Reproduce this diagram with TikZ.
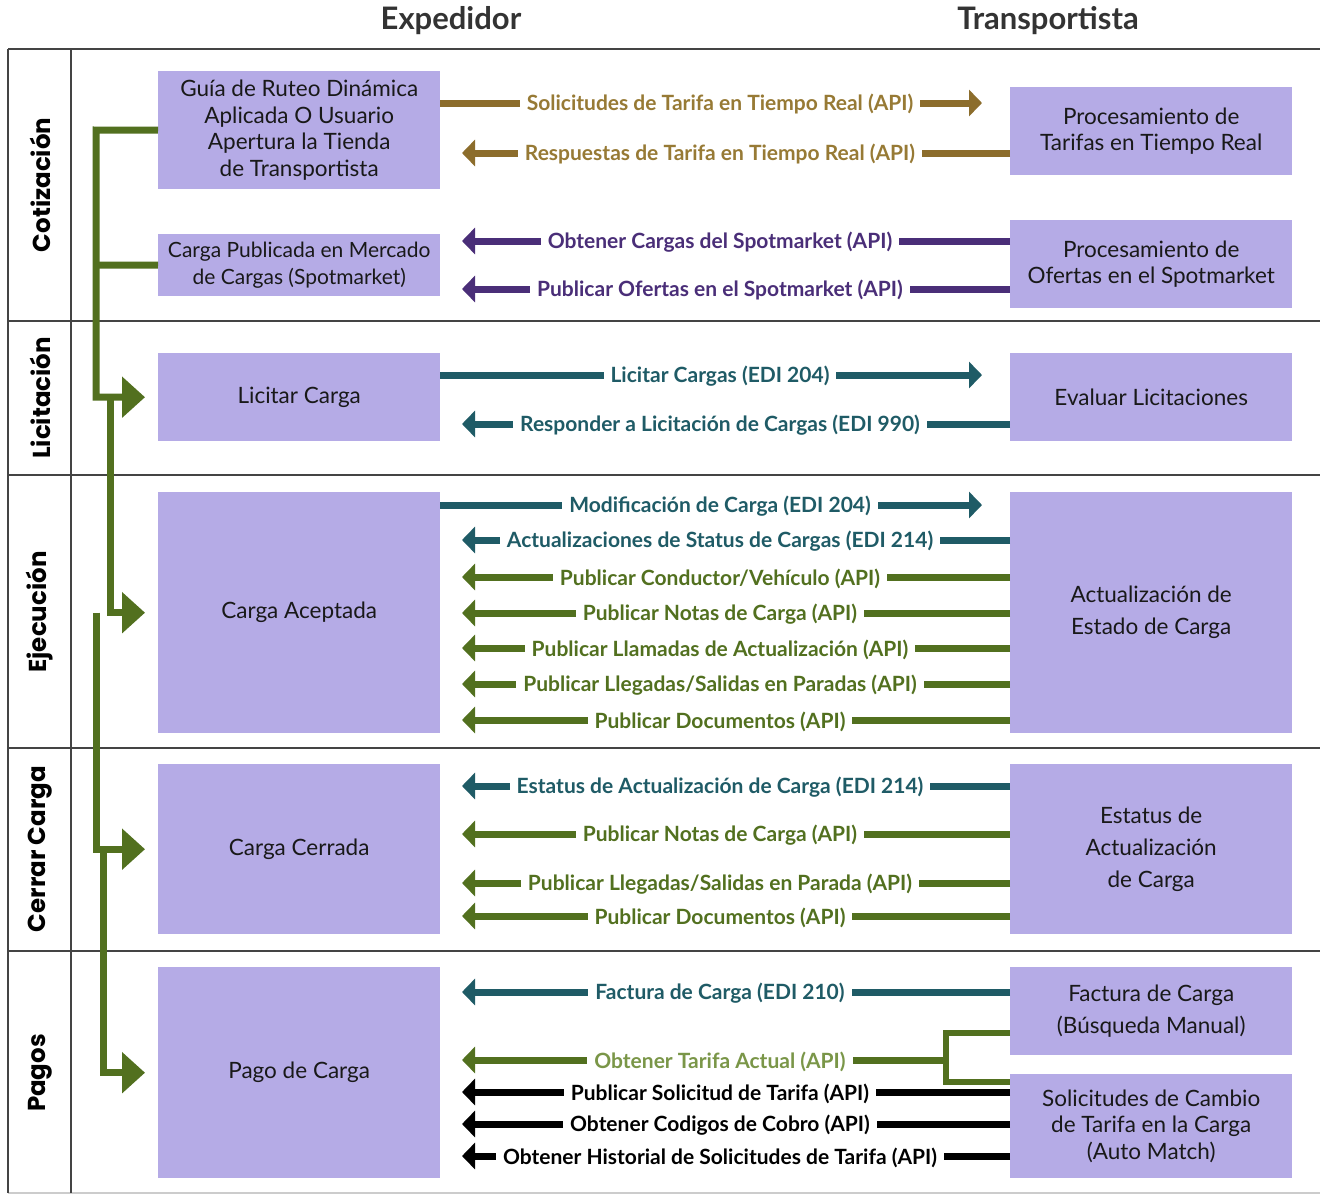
\documentclass[tikz,border=0pt]{standalone}
\usepackage{fontspec}
\setmainfont{Lato}
\newfontfamily\stagefont{Poppins}
\usetikzlibrary{arrows.meta}
\definecolor{boxfill}{HTML}{B5ABE6}
\definecolor{cgold}{HTML}{8C6D2C}
\definecolor{cgoldt}{HTML}{977A35}
\definecolor{cpurp}{HTML}{4A2E78}
\definecolor{cteal}{HTML}{1F5B66}
\definecolor{cgreen}{HTML}{52701F}
\definecolor{lgreen}{HTML}{7A9648}
\definecolor{hdr}{HTML}{333333}
\definecolor{rule}{HTML}{444444}
\tikzset{
  box/.style={fill=boxfill, draw=none, align=center, inner sep=0pt, anchor=north west, text=black!90, font=\fontsize{22.5}{26.5}\selectfont},
  flow/.style={line width=7pt, -{Triangle[length=13pt,width=26pt]}},
  lbl/.style={fill=white, inner xsep=7pt, inner ysep=1pt, yshift=-1.5pt, font=\fontsize{21}{22}\selectfont\bfseries},
  trunk/.style={cgreen, line width=7pt, -{Triangle[length=23pt,width=40pt]}},
  stage/.style={rotate=90, font=\stagefont\bfseries\fontsize{24.5}{27}\selectfont},
  colhead/.style={font=\fontsize{31}{33}\selectfont\bfseries, text=hdr},
  sep/.style={draw=rule, line width=1.3pt}
}
\newcommand\flowL[5]{%
  \coordinate (tip-#1) at (462,#1);
  \draw[flow,#2] (#5.west |- 0,#1) -- (tip-#1);
  \node[lbl,text=#3] (lab-#1) at (720,#1) {#4};}
\newcommand\flowR[5]{%
  \coordinate (tip-#1) at (982,#1);
  \draw[flow,#2] (#5.east |- 0,#1) -- (tip-#1);
  \node[lbl,text=#3] (lab-#1) at (720,#1) {#4};}
\begin{document}
\begin{tikzpicture}[x=1pt,y=-1pt]
\useasboundingbox (0,0) rectangle (1320,1195);
\fill[white] (0,0) rectangle (1320,1195);
% grid
\draw[sep] (8,49) -- (1320,49);
\foreach \yy in {321,475,748,951} \draw[sep] (8,\yy) -- (1320,\yy);
\draw[draw=black!20, line width=2pt] (8,1193) -- (1320,1193);
\draw[sep] (8,49) -- (8,1193);
\draw[sep] (71,49) -- (71,1193);
% headers
\node[colhead] (hexp) at (451,21) {Expedidor};
\node[colhead] (htra) at (1048,21) {Transportista};
% stages
\node[stage] (s1) at (40,185) {Cotización};
\node[stage] (s2) at (40,398) {Licitación};
\node[stage] (s3) at (40,612) {Ejecución};
\node[stage] (s4) at (40,849) {Cerrar Carga};
\node[stage] (s5) at (40,1073) {Pagos};
% left boxes
\node[box, minimum width=282, minimum height=118] (guia) at (158,71) {Guía de Ruteo Dinámica\\Aplicada O Usuario\\Apertura la Tienda\\de Transportista};
\node[box, minimum width=282, minimum height=62, font=\fontsize{21}{27}\selectfont] (spot) at (158,234) {Carga Publicada en Mercado\\de Cargas (Spotmarket)};
\node[box, minimum width=282, minimum height=88] (lic) at (158,353) {Licitar Carga};
\node[box, minimum width=282, minimum height=241] (acc) at (158,492) {Carga Aceptada};
\node[box, minimum width=282, minimum height=170] (cer) at (158,764) {Carga Cerrada};
\node[box, minimum width=282, minimum height=211] (pago) at (158,967) {Pago de Carga};
% right boxes
\node[box, minimum width=282, minimum height=88] (proc1) at (1010,87) {Procesamiento de\\Tarifas en Tiempo Real};
\node[box, minimum width=282, minimum height=88] (proc2) at (1010,220) {Procesamiento de\\Ofertas en el Spotmarket};
\node[box, minimum width=282, minimum height=88] (eval) at (1010,353) {Evaluar Licitaciones};
\node[box, minimum width=282, minimum height=241, font=\fontsize{22.5}{32}\selectfont] (act) at (1010,492) {Actualización de\\Estado de Carga};
\node[box, minimum width=282, minimum height=170, font=\fontsize{22.5}{32}\selectfont] (est) at (1010,764) {Estatus de\\Actualización\\de Carga};
\node[box, minimum width=282, minimum height=88, font=\fontsize{22.5}{32}\selectfont] (fac) at (1010,967) {Factura de Carga\\(Búsqueda Manual)};
\node[box, minimum width=282, minimum height=104] (sol) at (1010,1074) {Solicitudes de Cambio\\de Tarifa en la Carga\\(Auto Match)};
% trunk
\draw[trunk] (guia.west) -- (96,130) |- ([xshift=-13pt]lic.west);
\draw[cgreen, line width=7pt] (spot.west) -- (96,265);
\draw[trunk] (110,398) |- ([xshift=-13pt]acc.west);
\draw[trunk] (96,612.5) |- ([xshift=-13pt]cer.west);
\draw[trunk] (103,849) |- ([xshift=-13pt]pago.west);
% flows
\flowR{103}{cgold}{cgoldt}{Solicitudes de Tarifa en Tiempo Real (API)}{guia}
\flowL{153}{cgold}{cgoldt}{Respuestas de Tarifa en Tiempo Real (API)}{proc1}
\flowL{241}{cpurp}{cpurp}{Obtener Cargas del Spotmarket (API)}{proc2}
\flowL{289}{cpurp}{cpurp}{Publicar Ofertas en el Spotmarket (API)}{proc2}
\flowR{375}{cteal}{cteal}{Licitar Cargas (EDI 204)}{lic}
\flowL{424}{cteal}{cteal}{Responder a Licitación de Cargas (EDI 990)}{eval}
\flowR{505}{cteal}{cteal}{Modificación de Carga (EDI 204)}{acc}
\flowL{540}{cteal}{cteal}{Actualizaciones de Status de Cargas (EDI 214)}{act}
\flowL{577}{cgreen}{cgreen}{Publicar Conductor/Vehículo (API)}{act}
\flowL{613}{cgreen}{cgreen}{Publicar Notas de Carga (API)}{act}
\flowL{648}{cgreen}{cgreen}{Publicar Llamadas de Actualización (API)}{act}
\flowL{684}{cgreen}{cgreen}{Publicar Llegadas/Salidas en Paradas (API)}{act}
\flowL{720}{cgreen}{cgreen}{Publicar Documentos (API)}{act}
\flowL{786}{cteal}{cteal}{Estatus de Actualización de Carga (EDI 214)}{est}
\flowL{834}{cgreen}{cgreen}{Publicar Notas de Carga (API)}{est}
\flowL{883}{cgreen}{cgreen}{Publicar Llegadas/Salidas en Parada (API)}{est}
\flowL{916}{cgreen}{cgreen}{Publicar Documentos (API)}{est}
\flowL{992}{cteal}{cteal}{Factura de Carga (EDI 210)}{fac}
% bracket
\coordinate (br) at (946,1060);
\draw[cgreen, line width=6pt] (fac.west |- 0,1033) -| (946,1082) -- (sol.west |- 0,1082);
\coordinate (tip-1060) at (462,1060);
\draw[flow,cgreen] (br) -- (tip-1060);
\node[lbl,text=lgreen] (lab-1060) at (720,1060) {Obtener Tarifa Actual (API)};
\flowL{1092}{black}{black}{Publicar Solicitud de Tarifa (API)}{sol}
\flowL{1124}{black}{black}{Obtener Codigos de Cobro (API)}{sol}
\flowL{1156}{black}{black}{Obtener Historial de Solicitudes de Tarifa (API)}{sol}
\end{tikzpicture}
\end{document}
